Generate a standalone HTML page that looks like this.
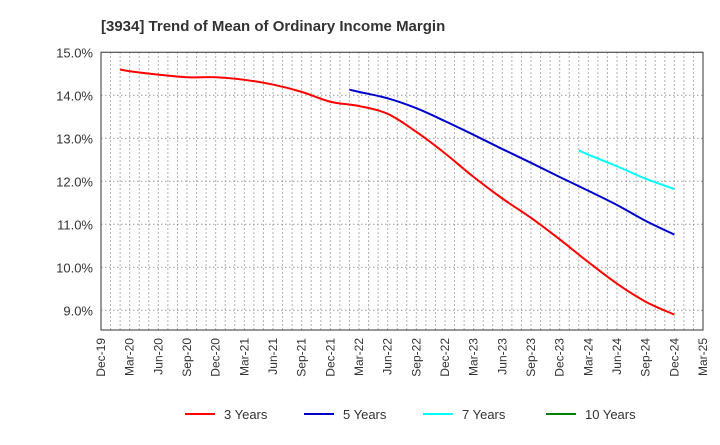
<!DOCTYPE html>
<html><head><meta charset="utf-8"><style>
body{margin:0;background:#fff;font-family:"Liberation Sans",Arial,sans-serif;}
svg text{font-family:"Liberation Sans",Arial,sans-serif;}
</style></head><body>
<svg id="chart" width="720" height="440" xmlns="http://www.w3.org/2000/svg">
<text x="101" y="31" font-size="15" font-weight="bold" fill="#333">[3934]  Trend of Mean of Ordinary Income Margin</text>
<g id="grid"></g><g id="axes"></g><g id="series"></g><g id="legend"></g>
</svg>
<script>
const xTickLabels=["Dec-19","Mar-20","Jun-20","Sep-20","Dec-20","Mar-21","Jun-21","Sep-21","Dec-21","Mar-22","Jun-22","Sep-22","Dec-22","Mar-23","Jun-23","Sep-23","Dec-23","Mar-24","Jun-24","Sep-24","Dec-24","Mar-25"];
const yTicks=[9,10,11,12,13,14,15];
const s3Start=1;
const s3First=14.6;
const s3=[14.56,14.48,14.42,14.42,14.36,14.25,14.08,13.85,13.75,13.57,13.15,12.65,12.1,11.6,11.15,10.65,10.12,9.62,9.2,8.9];
const s5Start=9;
const s5First=14.13;
const s5=[14.08,13.93,13.7,13.4,13.08,12.75,12.43,12.1,11.78,11.45,11.08,10.76];
const s7Start=17;
const s7First=12.72;
const s7=[12.62,12.35,12.06,11.82];
const s10Start=0;
const s10First=null;
const s10=[];
const seriesNames=["3 Years","5 Years","7 Years","10 Years"];
const seriesColors=["#ff0000","#0000cc","#00ffff","#008000"];

const NS="http://www.w3.org/2000/svg";
const L=101,R=703,T=52.3,B=330;
const nQ=xTickLabels.length-1;
const xm=m=>L+(R-L)*m/(nQ*3);
const xq=q=>xm(q*3);
const y=v=>T+(15-v)*43;
function mk(tag,attrs,parent){const e=document.createElementNS(NS,tag);for(const k in attrs)e.setAttribute(k,attrs[k]);parent.appendChild(e);return e;}
const grid=document.getElementById('grid'),axes=document.getElementById('axes'),ser=document.getElementById('series'),leg=document.getElementById('legend');
for(let m=1;m<nQ*3;m++){const x=xm(m);
 const ln=mk('line',{x1:x,x2:x,y1:T,y2:B,stroke:'#999','stroke-width':1,'stroke-dasharray':'1.5,2.5'},grid);
 
 }
yTicks.forEach(v=>{
 const ln=mk('line',{x1:L,x2:R,y1:y(v),y2:y(v),stroke:'#999','stroke-width':1,'stroke-dasharray':'1.5,2.5'},grid);
 
 
 const t=mk('text',{x:L-8,y:y(v)+5,'text-anchor':'end','font-size':13,fill:'#333'},axes);
 t.textContent=v.toFixed(1)+'%';
 
 
});
const fr=mk('rect',{x:L,y:T,width:R-L,height:B-T,fill:'none',stroke:'#555','stroke-width':1.2},axes);


xTickLabels.forEach((s,i)=>{const x=xq(i)+4;
 const t=mk('text',{x:x,y:B+8,'text-anchor':'end','font-size':12,fill:'#333',transform:`rotate(-90 ${x} ${B+8})`},axes);
 t.textContent=s;
 
 
});
function path(vals,start,first){const p=vals.map((v,i)=>[xq(start+i),y(v)]);
 if(first!=null&&p.length)p.unshift([xm(start*3-1),y(first)]);
 if(p.length<2)return '';
 let d=`M${p[0][0]},${p[0][1]}`;
 for(let i=0;i<p.length-1;i++){const p0=p[i-1]||p[i],p1=p[i],p2=p[i+1],p3=p[i+2]||p2;
  d+=` C${p1[0]+(p2[0]-p0[0])/6},${p1[1]+(p2[1]-p0[1])/6} ${p2[0]-(p3[0]-p1[0])/6},${p2[1]-(p3[1]-p1[1])/6} ${p2[0]},${p2[1]}`;}
 return d;}
[[s3,s3Start,s3First],[s5,s5Start,s5First],[s7,s7Start,s7First],[s10,s10Start,s10First]].forEach((a,k)=>{
 const d=path(a[0],a[1],a[2]);if(!d)return;
 const pe=mk('path',{d:d,fill:'none',stroke:seriesColors[k],'stroke-width':2},ser);
 
 
});
const lx=[185,304,423,546];
seriesNames.forEach((n,k)=>{
 const g=mk('g',{},leg);
 
 
 mk('line',{x1:lx[k],x2:lx[k]+30,y1:414,y2:414,stroke:seriesColors[k],'stroke-width':2},g);
 const t=mk('text',{x:lx[k]+39,y:419,'font-size':13,fill:'#333'},g);
 t.textContent=n;
});
</script>
</body></html>
